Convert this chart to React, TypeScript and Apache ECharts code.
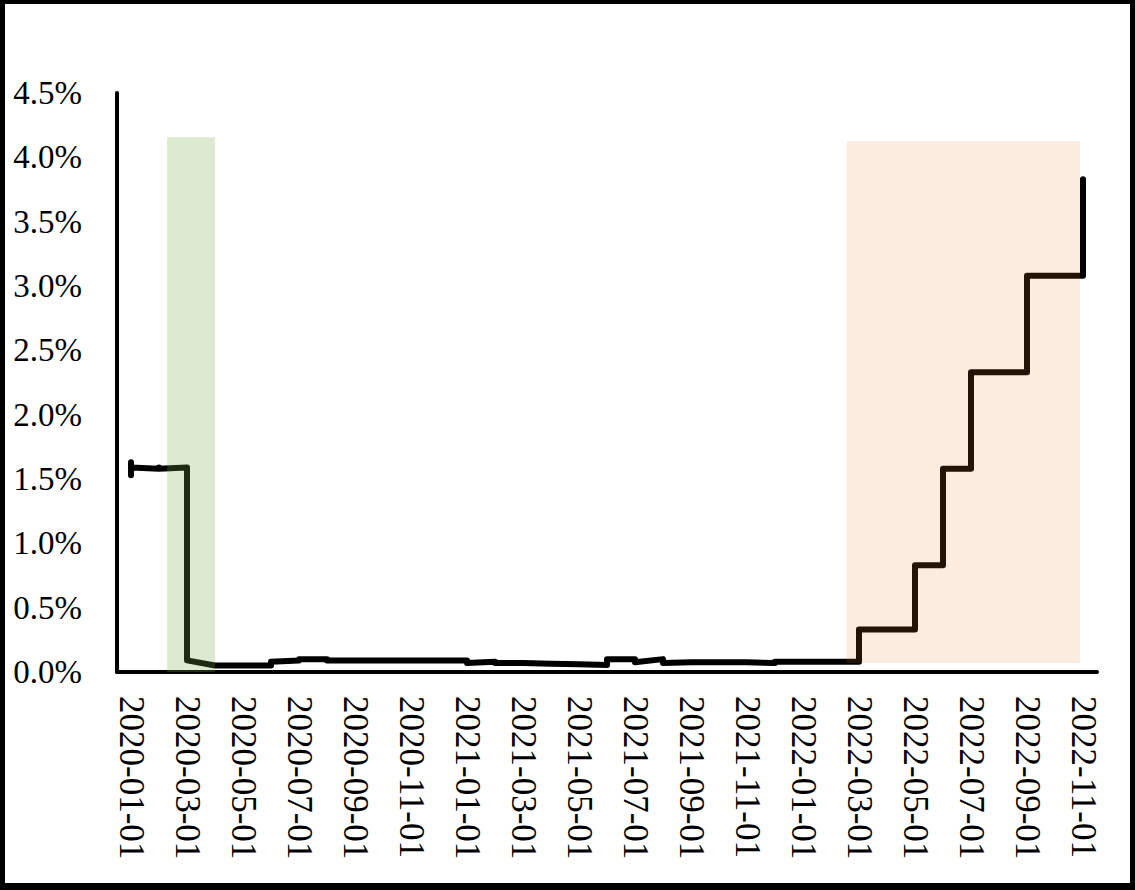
import React, { useEffect, useRef } from "react";
import * as echarts from "echarts";

// Month slots on the date axis (Excel-style date axis with a base unit of months)
const monthLabels: string[] = [
  "2020-01-01", "2020-02-01", "2020-03-01", "2020-04-01", "2020-05-01", "2020-06-01",
  "2020-07-01", "2020-08-01", "2020-09-01", "2020-10-01", "2020-11-01", "2020-12-01",
  "2021-01-01", "2021-02-01", "2021-03-01", "2021-04-01", "2021-05-01", "2021-06-01",
  "2021-07-01", "2021-08-01", "2021-09-01", "2021-10-01", "2021-11-01", "2021-12-01",
  "2022-01-01", "2022-02-01", "2022-03-01", "2022-04-01", "2022-05-01", "2022-06-01",
  "2022-07-01", "2022-08-01", "2022-09-01", "2022-10-01", "2022-11-01",
];

// Rate readings (%) in order within each month; all of a month's readings sit on its slot
const monthlyRates: number[][] = [
  [1.55, 1.53, 1.63, 1.59], // 2020-01
  [1.58, 1.59, 1.58],       // 2020-02
  [1.59, 1.09, 0.25, 0.09], // 2020-03
  [0.05, 0.05],             // 2020-04
  [0.05, 0.05],             // 2020-05
  [0.05, 0.08],             // 2020-06
  [0.09, 0.10],             // 2020-07
  [0.10, 0.09],             // 2020-08
  [0.09],                   // 2020-09
  [0.09],                   // 2020-10
  [0.09],                   // 2020-11
  [0.09],                   // 2020-12
  [0.09, 0.07],             // 2021-01
  [0.08, 0.07],             // 2021-02
  [0.07, 0.065],            // 2021-03
  [0.065, 0.06],            // 2021-04
  [0.06, 0.055],            // 2021-05
  [0.055, 0.10],            // 2021-06
  [0.10, 0.075],            // 2021-07
  [0.10, 0.07],             // 2021-08
  [0.075, 0.07],            // 2021-09
  [0.075, 0.07],            // 2021-10
  [0.075, 0.07],            // 2021-11
  [0.07, 0.08],             // 2021-12
  [0.08],                   // 2022-01
  [0.08],                   // 2022-02
  [0.08, 0.33],             // 2022-03
  [0.33],                   // 2022-04
  [0.33, 0.83],             // 2022-05
  [0.83, 1.58],             // 2022-06
  [1.58, 2.33],             // 2022-07
  [2.33],                   // 2022-08
  [2.33, 3.08],             // 2022-09
  [3.08],                   // 2022-10
  [3.08, 3.83],             // 2022-11
];

// Shaded periods, in month-slot units and rate units
const shadeStartMonth: number[] = [1.29, 25.56];
const shadeEndMonth: number[] = [3.0, 33.89];
const shadeLowRate: number[] = [0, 0.07];
const shadeHighRate: number[] = [4.157, 4.126];

const shadeColors = ["rgba(112,173,71,0.25)", "rgba(237,125,49,0.15)"];
const FONT = "'Liberation Serif', 'Times New Roman', serif";

export default function App() {
  const ref = useRef<HTMLDivElement>(null);

  useEffect(() => {
    if (!ref.current) return;
    const chart = echarts.init(ref.current, undefined, { renderer: "svg" });

    const linePoints: [number, number][] = [];
    monthlyRates.forEach((vals, i) => vals.forEach((v) => linePoints.push([i, v])));

    const shadeData = shadeStartMonth.map((s, i) => [s, shadeEndMonth[i], shadeLowRate[i], shadeHighRate[i]]);
    const labelIdx = monthLabels.map((_, i) => i).filter((i) => i % 2 === 0);

    chart.setOption({
      animation: false,
      grid: { left: 117, right: 38, top: 93, bottom: 218, containLabel: false },
      xAxis: {
        type: "value",
        min: -0.5,
        max: 34.5,
        splitLine: { show: false },
        axisTick: { show: false },
        axisLine: { show: true, onZero: false, lineStyle: { color: "#000", width: 4 } },
        axisLabel: {
          customValues: labelIdx,
          rotate: -90,
          margin: 24,
          color: "#000",
          fontFamily: FONT,
          fontSize: 35,
          formatter: (v: number) => monthLabels[Math.round(v)] ?? "",
        },
      },
      yAxis: {
        type: "value",
        min: 0,
        max: 4.5,
        interval: 0.5,
        splitLine: { show: false },
        axisTick: { show: false },
        axisLine: { show: true, onZero: false, lineStyle: { color: "#000", width: 4 } },
        axisLabel: {
          margin: 35,
          color: "#000",
          fontFamily: FONT,
          fontSize: 33,
          formatter: (v: number) => v.toFixed(1) + "%",
        },
      },
      series: [
        {
          type: "line",
          data: linePoints,
          showSymbol: false,
          symbol: "none",
          z: 2,
          lineStyle: { color: "#000", width: 6, cap: "round", join: "round" },
        },
        {
          type: "custom",
          z: 5,
          silent: true,
          data: shadeData,
          renderItem: (params: any, api: any) => {
            const p0 = api.coord([api.value(0), api.value(3)]);
            const p1 = api.coord([api.value(1), api.value(2)]);
            return {
              type: "rect",
              shape: { x: p0[0], y: p0[1], width: p1[0] - p0[0], height: p1[1] - p0[1] },
              style: { fill: shadeColors[params.dataIndex] },
            };
          },
        },
      ],
    });

    return () => chart.dispose();
  }, []);

  return (
    <div style={{ position: "fixed", left: 0, top: 0, width: 1135, height: 890, background: "#fff" }}>
      <div ref={ref} style={{ position: "absolute", left: 0, top: 0, width: 1135, height: 890 }} />
      <div
        style={{
          position: "absolute",
          left: 0,
          top: 0,
          width: 1135,
          height: 890,
          boxSizing: "border-box",
          borderStyle: "solid",
          borderColor: "#000",
          borderWidth: "4px 5px 7px 5px",
          pointerEvents: "none",
        }}
      />
    </div>
  );
}
